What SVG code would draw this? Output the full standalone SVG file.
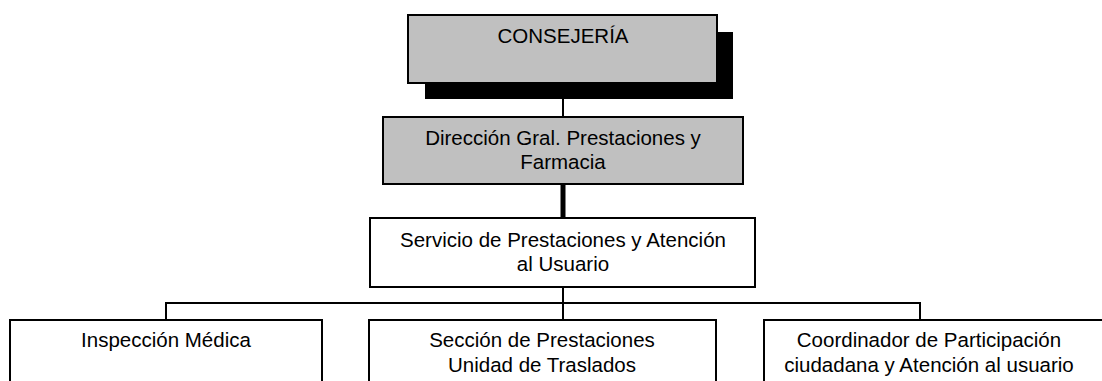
<svg xmlns="http://www.w3.org/2000/svg" width="1102" height="381" viewBox="0 0 1102 381">
<style>
.box{fill:#fff;stroke:#000;stroke-width:2}
.grey{fill:#c0c0c0;stroke:#000;stroke-width:2}
.t{font-family:"Liberation Sans",Arial,sans-serif;font-size:20.5px;fill:#000;text-anchor:middle}
.ln{fill:none;stroke:#000;stroke-width:2}
</style>
<rect width="1102" height="381" fill="#fff"/>
<g id="connectors">
<line class="ln" x1="563" y1="99" x2="563" y2="117"/>
<line x1="563" y1="184" x2="563" y2="218" stroke="#000" stroke-width="5"/>
<line class="ln" x1="563" y1="287" x2="563" y2="320"/>
<polyline class="ln" points="166,320 166,303 920,303 920,320"/>
</g>
<g id="consejeria">
<rect x="425" y="32" width="308" height="67" fill="#000"/>
<rect class="grey" x="408" y="15" width="309" height="68"/>
<text class="t" x="563" y="43">CONSEJERÍA</text>
</g>
<g id="direccion">
<rect class="grey" x="383" y="117" width="360" height="67"/>
<text class="t" x="563" y="145">Dirección Gral. Prestaciones y</text>
<text class="t" x="563" y="169">Farmacia</text>
</g>
<g id="servicio">
<rect class="box" x="370" y="218" width="385" height="69"/>
<text class="t" x="563" y="247">Servicio de Prestaciones y Atención</text>
<text class="t" x="563" y="271">al Usuario</text>
</g>
<g id="inspeccion">
<rect class="box" x="10" y="320" width="312" height="80"/>
<text class="t" x="166" y="347">Inspección Médica</text>
</g>
<g id="seccion">
<rect class="box" x="369" y="320" width="347" height="80"/>
<text class="t" x="542" y="347">Sección de Prestaciones</text>
<text class="t" x="542" y="372">Unidad de Traslados</text>
</g>
<g id="coordinador">
<rect class="box" x="764" y="320" width="360" height="80"/>
<text class="t" x="929" y="347">Coordinador de Participación</text>
<text class="t" x="929" y="372">ciudadana y Atención al usuario</text>
</g>
</svg>
